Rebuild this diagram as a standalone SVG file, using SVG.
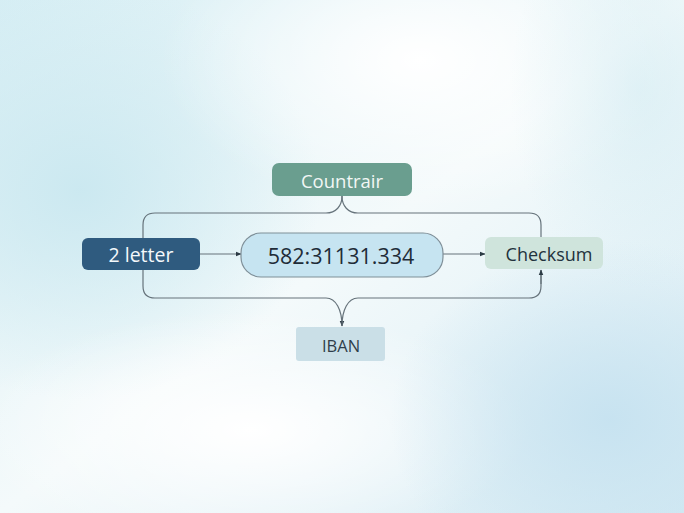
<svg xmlns="http://www.w3.org/2000/svg" width="684" height="513" viewBox="0 0 684 513">
<defs>
<radialGradient id="g1" cx="0.5" cy="0.5" r="0.5"><stop offset="0" stop-color="#cae8f0" stop-opacity="0.95"/><stop offset="1" stop-color="#cae8f0" stop-opacity="0"/></radialGradient>
<radialGradient id="g2" cx="0.5" cy="0.5" r="0.5"><stop offset="0" stop-color="#ffffff" stop-opacity="1"/><stop offset="1" stop-color="#ffffff" stop-opacity="0"/></radialGradient>
<radialGradient id="g3" cx="0.5" cy="0.5" r="0.5"><stop offset="0" stop-color="#c6e2f0" stop-opacity="0.95"/><stop offset="1" stop-color="#c6e2f0" stop-opacity="0"/></radialGradient>
<linearGradient id="bg" x1="0" y1="0" x2="1" y2="1"><stop offset="0" stop-color="#d6eef4"/><stop offset="0.5" stop-color="#f4fafb"/><stop offset="1" stop-color="#d4eaf3"/></linearGradient>
<marker id="ah" viewBox="0 0 10 10" refX="9" refY="5" markerWidth="6" markerHeight="6" orient="auto-start-reverse" markerUnits="userSpaceOnUse"><path d="M0,1 L10,5 L0,9 z" fill="#2b3a44"/></marker>
<style>
.c{fill:none;stroke:#66737b;stroke-width:1.2}
.t{font-family:"Open Sans","Noto Sans",sans-serif;text-anchor:middle;dominant-baseline:central}
</style>
</defs>
<rect width="684" height="513" fill="url(#bg)"/>
<ellipse cx="80" cy="190" rx="240" ry="210" fill="url(#g1)"/>
<ellipse cx="420" cy="60" rx="260" ry="150" fill="url(#g2)"/>
<ellipse cx="640" cy="90" rx="130" ry="200" fill="url(#g1)" opacity="0.5"/>
<ellipse cx="250" cy="430" rx="280" ry="120" fill="url(#g2)"/>
<ellipse cx="610" cy="420" rx="220" ry="180" fill="url(#g3)"/>
<g id="connectors">
<path class="c" d="M200,254 H241" marker-end="url(#ah)"/>
<path class="c" d="M443,254 H485" marker-end="url(#ah)"/>
<path class="c" d="M342,196 C342,206 336,213 326,213 H155 Q143,213 143,225 V238"/>
<path class="c" d="M342,196 C342,206 348,213 358,213 H529 Q541,213 541,225 V237"/>
<path class="c" d="M143,270 V286 Q143,298 155,298 H326 C336,298 342,310 342,326" marker-end="url(#ah)"/>
<path class="c" d="M541,270 V286 Q541,298 529,298 H358 C348,298 342,310 342,326"/>
<path class="c" d="M541,284 V270" marker-end="url(#ah)"/>
</g>
<g id="countrair">
<rect x="272" y="163" width="140" height="33" rx="7" fill="#6a9e8f"/>
<text class="t" x="342" y="180" font-size="18.5" fill="#f2f7f5">Countrair</text>
</g>
<g id="two-letter">
<rect x="82" y="238" width="118" height="32" rx="6" fill="#2f5b7f"/>
<text class="t" x="141" y="254" font-size="19.5" fill="#f4f8fb">2 letter</text>
</g>
<g id="number">
<rect x="241" y="233" width="202" height="44" rx="20" fill="#c6e4f1" stroke="#7f8f98" stroke-width="1.2"/>
<text class="t" x="341" y="255" font-size="21.5" fill="#1e2c38">582:31131.334</text>
</g>
<g id="checksum">
<rect x="485" y="237" width="118" height="32" rx="6" fill="#cfe4dc"/>
<text class="t" x="549" y="254" font-size="18" fill="#22323c">Checksum</text>
</g>
<g id="iban">
<rect x="296" y="327" width="89" height="34" rx="3" fill="#cadfe7"/>
<text class="t" x="341" y="345" font-size="16.5" fill="#2f3e4a">IBAN</text>
</g>
</svg>
